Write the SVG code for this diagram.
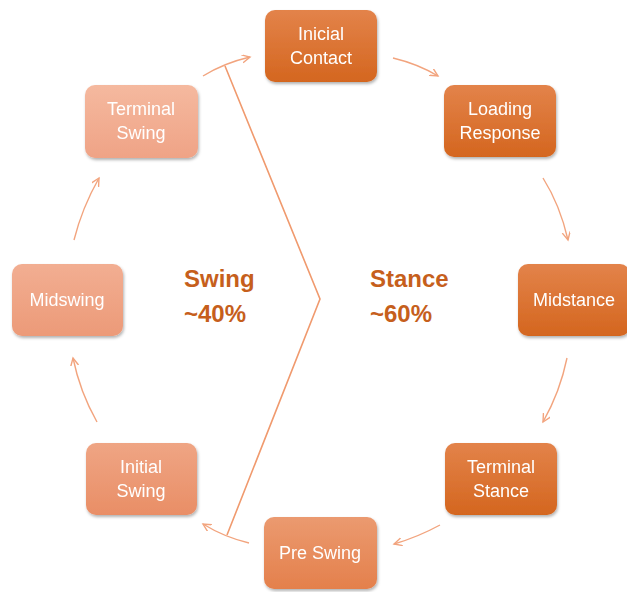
<svg xmlns="http://www.w3.org/2000/svg" width="627" height="592" viewBox="0 0 627 592">
<defs>
<style>
.lbl{font-family:"Liberation Sans",Arial,sans-serif;font-size:18px;fill:#ffffff;text-anchor:middle}
.big{font-family:"Liberation Sans",Arial,sans-serif;font-size:24px;font-weight:bold;fill:#c65f1c}
.conn{fill:none;stroke:#f2a47e;stroke-width:1.4}
.brk{fill:none;stroke:#f09a6e;stroke-width:1.6}
</style>
<linearGradient id="gDark" x1="0" y1="0" x2="0" y2="1"><stop offset="0" stop-color="#e3834a"/><stop offset="1" stop-color="#d4661f"/></linearGradient>
<linearGradient id="gMid" x1="0" y1="0" x2="0" y2="1"><stop offset="0" stop-color="#eb9a70"/><stop offset="1" stop-color="#e4804c"/></linearGradient>
<linearGradient id="gLight" x1="0" y1="0" x2="0" y2="1"><stop offset="0" stop-color="#efa584"/><stop offset="1" stop-color="#e98e66"/></linearGradient>
<linearGradient id="gLighter" x1="0" y1="0" x2="0" y2="1"><stop offset="0" stop-color="#f2ae92"/><stop offset="1" stop-color="#ec9a78"/></linearGradient>
<linearGradient id="gLightest" x1="0" y1="0" x2="0" y2="1"><stop offset="0" stop-color="#f5b99f"/><stop offset="1" stop-color="#efa386"/></linearGradient>
<filter id="sh" x="-10%" y="-10%" width="125%" height="130%"><feDropShadow dx="1" dy="2" stdDeviation="1.5" flood-color="#000" flood-opacity="0.3"/></filter>
<marker id="ah" markerWidth="10" markerHeight="10" refX="8" refY="4" orient="auto" markerUnits="userSpaceOnUse"><path d="M0,0 L8,4 L0,8" fill="none" stroke="#f2a47e" stroke-width="1.4"/></marker>
</defs>
<rect width="627" height="592" fill="#ffffff"/>
<g id="connectors">
<path class="conn" d="M203,76 Q224,63 250,57" marker-end="url(#ah)"/>
<path class="conn" d="M393,58 Q418,64 438,76" marker-end="url(#ah)"/>
<path class="conn" d="M543,178 Q560,205 568,240" marker-end="url(#ah)"/>
<path class="conn" d="M567,358 Q560,392 543,422" marker-end="url(#ah)"/>
<path class="conn" d="M440,525 Q418,537 394,544" marker-end="url(#ah)"/>
<path class="conn" d="M249,543 Q224,537 203,524" marker-end="url(#ah)"/>
<path class="conn" d="M97,422 Q80,392 73,358" marker-end="url(#ah)"/>
<path class="conn" d="M74,240 Q82,208 99,178" marker-end="url(#ah)"/>
<path class="brk" d="M225,66 L320,299 L227,535"/>
</g>
<g id="inicial-contact" filter="url(#sh)"><rect x="265" y="10" width="112" height="72" rx="10" fill="url(#gDark)"/><text class="lbl" x="321" y="40">Inicial</text><text class="lbl" x="321" y="64">Contact</text></g>
<g id="loading-response" filter="url(#sh)"><rect x="444" y="85" width="112" height="72" rx="10" fill="url(#gDark)"/><text class="lbl" x="500" y="115">Loading</text><text class="lbl" x="500" y="139">Response</text></g>
<g id="midstance" filter="url(#sh)"><rect x="518" y="264" width="112" height="72" rx="10" fill="url(#gDark)"/><text class="lbl" x="574" y="306">Midstance</text></g>
<g id="terminal-stance" filter="url(#sh)"><rect x="445" y="443" width="112" height="72" rx="10" fill="url(#gDark)"/><text class="lbl" x="501" y="473">Terminal</text><text class="lbl" x="501" y="497">Stance</text></g>
<g id="pre-swing" filter="url(#sh)"><rect x="264" y="517" width="113" height="72" rx="10" fill="url(#gMid)"/><text class="lbl" x="320" y="559">Pre Swing</text></g>
<g id="initial-swing" filter="url(#sh)"><rect x="86" y="443" width="111" height="72" rx="10" fill="url(#gLight)"/><text class="lbl" x="141" y="473">Initial</text><text class="lbl" x="141" y="497">Swing</text></g>
<g id="midswing" filter="url(#sh)"><rect x="12" y="264" width="111" height="72" rx="10" fill="url(#gLighter)"/><text class="lbl" x="67" y="306">Midswing</text></g>
<g id="terminal-swing" filter="url(#sh)"><rect x="85" y="85" width="113" height="73" rx="10" fill="url(#gLightest)"/><text class="lbl" x="141" y="115">Terminal</text><text class="lbl" x="141" y="139">Swing</text></g>
<g id="labels">
<text class="big" x="184" y="287">Swing</text><text class="big" x="184" y="322">~40%</text>
<text class="big" x="370" y="287">Stance</text><text class="big" x="370" y="322">~60%</text>
</g>
</svg>
